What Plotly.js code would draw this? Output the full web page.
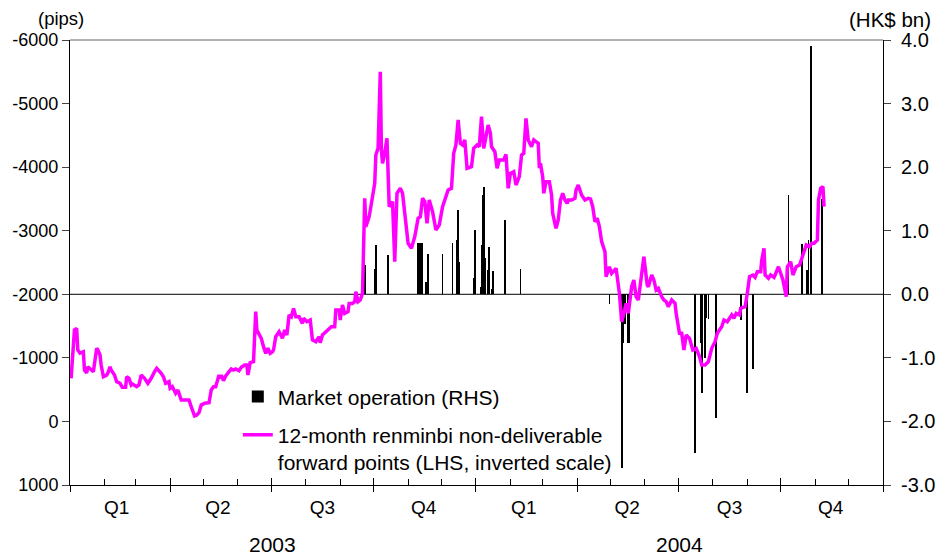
<!DOCTYPE html>
<html>
<head>
<meta charset="utf-8">
<script src="https://cdn.plot.ly/plotly-3.0.1.min.js"></script>
<style>html,body{margin:0;padding:0;background:#fff;}#chart{width:937px;height:558px;}</style>
</head>
<body>
<div id="chart"></div>
<script>
// 12-month renminbi NDF points (pips, LHS inverted)
const ndfDates = [
'2003-01-02','2003-01-05','2003-01-07','2003-01-08','2003-01-10','2003-01-13','2003-01-14','2003-01-16','2003-01-17','2003-01-20',
'2003-01-22','2003-01-25','2003-01-26','2003-01-28','2003-01-29','2003-01-31','2003-02-03','2003-02-04','2003-02-06','2003-02-07',
'2003-02-10','2003-02-12','2003-02-15','2003-02-17','2003-02-20','2003-02-21','2003-02-23','2003-02-25','2003-02-26','2003-03-02',
'2003-03-04','2003-03-06','2003-03-09','2003-03-12','2003-03-15','2003-03-18','2003-03-20','2003-03-24','2003-03-26','2003-03-28',
'2003-03-31','2003-04-01','2003-04-03','2003-04-06','2003-04-08','2003-04-09','2003-04-11','2003-04-15','2003-04-18','2003-04-20',
'2003-04-23','2003-04-25','2003-04-27','2003-04-29','2003-05-02','2003-05-06','2003-05-08','2003-05-10','2003-05-12','2003-05-15',
'2003-05-16','2003-05-17','2003-05-19','2003-05-21','2003-05-24','2003-05-26','2003-05-28','2003-05-30','2003-06-02','2003-06-04',
'2003-06-07','2003-06-09','2003-06-10','2003-06-12','2003-06-15','2003-06-17','2003-06-18','2003-06-22','2003-06-24','2003-06-26',
'2003-06-28','2003-06-30','2003-07-02','2003-07-03','2003-07-05','2003-07-08','2003-07-11','2003-07-13','2003-07-15','2003-07-17',
'2003-07-19','2003-07-21','2003-07-23','2003-07-26','2003-07-29','2003-07-30','2003-08-02','2003-08-05','2003-08-07','2003-08-10',
'2003-08-13','2003-08-14','2003-08-16','2003-08-21','2003-08-24','2003-08-27','2003-08-28','2003-08-31','2003-09-01','2003-09-03',
'2003-09-05','2003-09-08','2003-09-09','2003-09-12','2003-09-14','2003-09-15','2003-09-17','2003-09-19','2003-09-20','2003-09-21',
'2003-09-23','2003-09-24','2003-09-27','2003-09-30','2003-10-02','2003-10-03','2003-10-05','2003-10-07','2003-10-08','2003-10-09',
'2003-10-11','2003-10-13','2003-10-15','2003-10-18','2003-10-20','2003-10-22','2003-10-25','2003-10-27','2003-10-29','2003-10-30',
'2003-11-01','2003-11-04','2003-11-07','2003-11-10','2003-11-12','2003-11-14','2003-11-16','2003-11-18','2003-11-20','2003-11-23',
'2003-11-26','2003-11-29','2003-12-02','2003-12-07','2003-12-10','2003-12-12','2003-12-14','2003-12-16','2003-12-18','2003-12-20',
'2003-12-22','2003-12-24','2003-12-28','2003-12-30','2004-01-02','2004-01-04','2004-01-06','2004-01-08','2004-01-09','2004-01-12',
'2004-01-14','2004-01-15','2004-01-18','2004-01-20','2004-01-22','2004-01-26','2004-01-28','2004-01-30','2004-02-01','2004-02-04',
'2004-02-06','2004-02-09','2004-02-11','2004-02-13','2004-02-15','2004-02-17','2004-02-20','2004-02-22','2004-02-24','2004-02-26',
'2004-02-27','2004-02-28','2004-03-01','2004-03-02','2004-03-04','2004-03-07','2004-03-09','2004-03-10','2004-03-13','2004-03-15',
'2004-03-17','2004-03-19','2004-03-21','2004-03-23','2004-03-24','2004-03-27','2004-03-30','2004-03-31','2004-04-02','2004-04-05',
'2004-04-08','2004-04-11','2004-04-13','2004-04-15','2004-04-17','2004-04-19','2004-04-21','2004-04-23','2004-04-25','2004-04-26',
'2004-04-27','2004-04-30','2004-05-02','2004-05-06','2004-05-09','2004-05-11','2004-05-13','2004-05-15','2004-05-17','2004-05-20',
'2004-05-22','2004-05-24','2004-05-26','2004-05-29','2004-05-31','2004-06-03','2004-06-04','2004-06-07','2004-06-09','2004-06-11',
'2004-06-13','2004-06-16','2004-06-18','2004-06-20','2004-06-22','2004-06-25','2004-06-28','2004-06-29','2004-07-02','2004-07-04',
'2004-07-06','2004-07-08','2004-07-11','2004-07-14','2004-07-17','2004-07-20','2004-07-22','2004-07-25','2004-07-28','2004-07-31',
'2004-08-03','2004-08-05','2004-08-09','2004-08-11','2004-08-14','2004-08-18','2004-08-20','2004-08-22','2004-08-25','2004-08-26',
'2004-08-30','2004-09-01','2004-09-03','2004-09-06','2004-09-08','2004-09-10','2004-09-13','2004-09-14','2004-09-16','2004-09-17',
'2004-09-20','2004-09-22','2004-09-25','2004-09-26','2004-09-29','2004-10-01','2004-10-03','2004-10-06','2004-10-07','2004-10-10',
'2004-10-12','2004-10-15','2004-10-18','2004-10-21','2004-10-24','2004-10-27','2004-10-29','2004-10-31','2004-11-03','2004-11-04',
'2004-11-06','2004-11-08','2004-11-09'
];
const ndfPips = [
-678,-1438,-1465,-1124,-1076,-1097,-809,-762,-861,-809,
-783,-1150,-1124,-1045,-888,-704,-730,-757,-861,-809,
-730,-625,-600,-537,-537,-704,-678,-573,-589,-546,
-573,-730,-678,-600,-678,-783,-835,-757,-704,-600,
-625,-521,-546,-442,-494,-442,-337,-337,-337,-232,
-86,-101,-138,-259,-285,-295,-494,-546,-546,-730,
-678,-730,-641,-715,-783,-825,-809,-825,-798,-851,
-888,-888,-730,-924,-940,-1726,-1438,-1307,-1176,-1071,
-1150,-1071,-1097,-1124,-1333,-1412,-1307,-1438,-1360,-1674,
-1647,-1779,-1647,-1647,-1543,-1622,-1569,-1596,-1281,-1254,
-1333,-1238,-1360,-1438,-1490,-1490,-1753,-1753,-1596,-1831,
-1700,-1726,-1857,-1857,-1884,-2041,-1884,-1910,-1962,-2015,
-3510,-3064,-3221,-3589,-3746,-4191,-4296,-5501,-4270,-4060,
-4218,-4454,-3378,-3457,-2513,-3589,-3667,-3589,-3274,-3221,
-2802,-2723,-2906,-3195,-3221,-3510,-3457,-3117,-3483,-3300,
-3012,-3090,-3378,-3641,-3667,-4218,-4349,-4742,-4375,-4349,
-4427,-3982,-4007,-4296,-4349,-4322,-4794,-4296,-4375,-4663,
-4532,-4322,-4243,-3982,-4112,-4112,-4200,-3667,-3903,-3929,
-3719,-3850,-4191,-4218,-4768,-4427,-4322,-4427,-4400,-4375,
-3982,-4060,-3850,-3589,-3772,-3772,-3562,-3274,-3038,-3169,
-3483,-3589,-3483,-3431,-3483,-3483,-3510,-3641,-3719,-3562,
-3483,-3510,-3500,-3378,-3142,-3195,-3064,-2828,-2723,-2670,
-2277,-2434,-2330,-2409,-2015,-1569,-1700,-1857,-1700,-2119,
-2225,-1962,-1910,-2382,-2591,-2146,-2119,-2303,-2225,-2067,
-2093,-1962,-1910,-1884,-1805,-1910,-1857,-1700,-1386,-1386,
-1124,-1360,-1307,-1124,-1150,-1019,-888,-888,-940,-1150,
-1254,-1386,-1490,-1596,-1569,-1674,-1622,-1700,-1674,-1779,
-1805,-2015,-2277,-2303,-2267,-2355,-2355,-2539,-2723,-2303,
-2251,-2303,-2267,-2303,-2434,-2330,-2225,-1962,-2434,-2513,
-2303,-2434,-2460,-2618,-2775,-2749,-2802,-2802,-2854,-3483,
-3667,-3693,-3378
];

// Market operation (HK$ bn, RHS)
const opDates = [
'2003-09-23','2003-10-02','2003-10-03','2003-10-14','2003-11-10','2003-11-11','2003-11-12','2003-11-13','2003-11-14','2003-11-17',
'2003-11-19','2003-12-02','2003-12-11','2003-12-15','2003-12-16','2003-12-17','2003-12-30','2003-12-31','2004-01-05','2004-01-06',
'2004-01-07','2004-01-08','2004-01-09','2004-01-12','2004-01-13','2004-01-15','2004-01-16','2004-01-27','2004-02-10','2004-04-30',
'2004-05-11','2004-05-12','2004-05-14','2004-05-17','2004-05-18','2004-07-16','2004-07-21','2004-07-22','2004-07-25','2004-07-26',
'2004-07-28','2004-08-04','2004-08-26','2004-09-01','2004-09-06','2004-10-08','2004-10-20','2004-10-25','2004-10-26','2004-10-28',
'2004-11-07'
];
const opValues = [
0.46,0.39,0.78,0.62,0.80,0.80,0.80,0.80,0.80,0.20,
0.63,0.63,0.80,0.86,1.33,0.51,0.25,1.01,0.12,0.78,
1.56,1.69,0.57,0.38,0.75,0.09,0.37,1.17,0.39,-0.15,
-2.74,-0.77,-0.46,-0.77,-0.77,-2.50,-0.77,-1.56,-1.00,-0.38,
-0.39,-1.95,-0.40,-1.56,-1.18,1.56,0.79,0.38,0.85,3.90,
1.50
];

// Axis ticks and labels
const quarterStarts = ['2003-01-01','2003-04-01','2003-07-01','2003-10-01','2004-01-01','2004-04-01','2004-07-01','2004-10-01','2005-01-01'];
const quarterMids = ['2003-02-12','2003-05-14','2003-08-16','2003-11-15','2004-02-13','2004-05-16','2004-08-16','2004-11-15'];
const quarterLabels = ['Q1','Q2','Q3','Q4','Q1','Q2','Q3','Q4'];
const yearMids = ['2003-07-02','2004-07-02'];
const yearLabels = ['2003','2004'];
const pipsTicks = [-6000,-5000,-4000,-3000,-2000,-1000,0,1000];
const pipsLabels = ['-6000','-5000','-4000','-3000','-2000','-1000','0','1000'];
const hkTicks = [-3,-2,-1,0,1,2,3,4];
const hkLabels = ['-3.0','-2.0','-1.0','0.0','1.0','2.0','3.0','4.0'];

const FONT = 'Liberation Sans, Arial, sans-serif';
const xRange = ['2003-01-01','2005-01-01'];

const traces = [
  {
    type:'bar', x:opDates, y:opValues, xaxis:'x', yaxis:'y',
    name:'Market operation (RHS)', legendgroup:'a',
    marker:{color:'#000000', line:{width:0}},
    width: 1.6*86400000
  },
  {
    type:'scatter', mode:'lines', x:ndfDates, y:ndfPips, xaxis:'x', yaxis:'y2',
    name:'12-month renminbi non-deliverable<br>forward points (LHS, inverted scale)', legendgroup:'b',
    line:{color:'#FF00FF', width:3.5}
  },
  // invisible helpers so the overlaid tick/label axes get drawn
  {type:'scatter', mode:'markers', x:[xRange[0]], y:[0], xaxis:'x2', yaxis:'y', showlegend:false, hoverinfo:'skip', marker:{opacity:0, size:1}},
  {type:'scatter', mode:'markers', x:[xRange[0]], y:[0], xaxis:'x3', yaxis:'y', showlegend:false, hoverinfo:'skip', marker:{opacity:0, size:1}}
];

const annotations = [
  {xref:'paper', yref:'paper', x:0.0197, xanchor:'right', y:1.049, yanchor:'middle', text:'(pips)', showarrow:false, font:{size:18.5, family:FONT, color:'#000'}},
  {xref:'paper', yref:'paper', x:1.0615, xanchor:'right', y:1.047, yanchor:'middle', text:'(HK$ bn)', showarrow:false, font:{size:20.5, family:FONT, color:'#000'}}
];
yearMids.forEach((d,i)=>annotations.push({xref:'x', yref:'paper', x:d, y:-0.134, xanchor:'center', yanchor:'middle', text:yearLabels[i], showarrow:false, font:{size:21, family:FONT, color:'#000'}}));

const layout = {
  width:937, height:558,
  margin:{l:70, r:54, t:40, b:73},
  paper_bgcolor:'#ffffff', plot_bgcolor:'#ffffff',
  font:{family:FONT, color:'#000'},
  showlegend:true,
  bargap:0,
  legend:{x:0.2064, xanchor:'left', y:0.244, yanchor:'top', font:{size:21, family:FONT, color:'#000'},
          bgcolor:'rgba(0,0,0,0)', traceorder:'grouped', tracegroupgap:8, itemwidth:30, valign:'top'},
  xaxis:{type:'date', range:xRange, showline:true, linecolor:'#000', linewidth:1,
         tickmode:'array', tickvals:quarterStarts, ticks:'inside', ticklen:7, tickcolor:'#000',
         showticklabels:false, showgrid:false, zeroline:false,
         minor:{tickmode:'linear', tick0:'2003-01-01', dtick:'M1', ticks:'inside', ticklen:6, tickcolor:'#000', showgrid:false}},
  xaxis2:{type:'date', range:xRange, overlaying:'x', anchor:'y', side:'bottom', fixedrange:true,
          tickmode:'array', tickvals:quarterStarts, ticks:'outside', ticklen:6, tickcolor:'#000',
          showticklabels:false, showline:false, showgrid:false, zeroline:false},
  xaxis3:{type:'date', range:xRange, overlaying:'x', anchor:'y', side:'bottom', fixedrange:true,
          tickmode:'array', tickvals:quarterMids, ticktext:quarterLabels, ticks:'outside', ticklen:5,
          tickcolor:'rgba(0,0,0,0)', tickfont:{size:19, family:FONT, color:'#000'},
          showline:false, showgrid:false, zeroline:false},
  yaxis:{side:'right', anchor:'x', range:[-3,4], tickmode:'array', tickvals:hkTicks, ticktext:hkLabels,
         ticks:'outside', ticklen:7, tickcolor:'#444', ticklabelstandoff:6,
         showline:true, linecolor:'#000', linewidth:1, showgrid:false, zeroline:false,
         tickfont:{size:20, family:FONT, color:'#000'}},
  yaxis2:{side:'left', overlaying:'y', anchor:'x', range:[1000,-6000], tickmode:'array', tickvals:pipsTicks, ticktext:pipsLabels,
          ticks:'outside', ticklen:7, tickcolor:'#444',
          showline:true, linecolor:'#000', linewidth:1, showgrid:false, zeroline:false,
          tickfont:{size:18, family:FONT, color:'#000'}},
  shapes:[
    {type:'line', xref:'paper', yref:'y', x0:0, x1:1, y0:0, y1:0, line:{color:'#000', width:1}, layer:'below'},
    {type:'line', xref:'paper', yref:'paper', x0:0, x1:1, y0:1, y1:1, line:{color:'#666', width:1}}
  ],
  annotations:annotations
};

Plotly.newPlot('chart', traces, layout, {displayModeBar:false, staticPlot:true});
</script>
</body>
</html>
